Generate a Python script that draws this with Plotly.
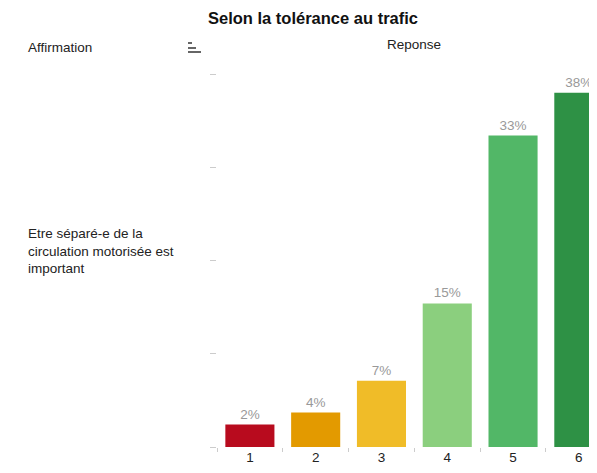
import plotly.graph_objects as go

categories = ["1", "2", "3", "4", "5", "6"]
values = [2.4, 3.7, 7.1, 15.4, 33.4, 38.0]
colors = ["#B80B1E", "#E39A00", "#F0BC28", "#8BCF7E", "#52B767", "#2E9145"]
title = "Selon la tolérance au trafic"
row_label = "Etre séparé-e de la<br>circulation motorisée est<br>important"
y_ticks = [0, 10, 20, 30, 40]

FONT = "Liberation Sans, Arial, sans-serif"

OFF = 8  # page body margin
W, H = 597 - OFF, 473 - 2 * OFF
# plot area in window pixels: left 217, top 74, bottom 447
l = 217 - OFF
t = 74 - OFF
b = H - (447 - OFF)
r = 0
pw, ph = W - l - r, H - t - b


def px(X):
    return (X - OFF - l) / pw


def py(Y):
    return (H - b - (Y - OFF)) / ph


x_max = -0.5 + (W + OFF - 217.5) / 65.7

fig = go.Figure(go.Bar(
    x=categories, y=values,
    marker=dict(color=colors, line=dict(width=0)),
    texttemplate="%{y:.0f}%", textposition="outside",
    textfont=dict(color="#999999", size=13.5, family=FONT),
    cliponaxis=False, hoverinfo="skip",
))

fig.update_layout(
    width=W, height=H,
    margin=dict(l=l, r=r, t=t, b=b),
    paper_bgcolor="white", plot_bgcolor="white",
    showlegend=False, bargap=0.254,
    font=dict(family=FONT, size=13.5, color="#222222"),
    title=dict(text="<b>" + title + "</b>", x=(313 - OFF) / W, xanchor="center",
               y=1 - (18 - OFF) / H, yanchor="middle",
               font=dict(size=16.5, color="#111111", family=FONT)),
    xaxis=dict(range=[-0.5, x_max], showgrid=False, zeroline=False, showline=False,
               ticks="outside", tickson="boundaries", ticklen=4, tickcolor="#cccccc",
               tickwidth=1, tickfont=dict(size=13.5, color="#222222")),
    yaxis=dict(range=[0, 40], tickvals=y_ticks, showticklabels=False, showgrid=False,
               zeroline=False, showline=False, ticks="outside", ticklen=6,
               tickcolor="#cccccc", tickwidth=1),
    annotations=[
        dict(text="Reponse", x=px(414), y=py(45), xref="paper", yref="paper",
             showarrow=False, xanchor="center", yanchor="middle",
             font=dict(size=13.5, color="#222222")),
        dict(text="Affirmation", x=px(26), y=py(48), xref="paper", yref="paper",
             showarrow=False, xanchor="left", yanchor="middle",
             font=dict(size=13.5, color="#222222")),
        dict(text=row_label, x=px(26), y=py(251), xref="paper", yref="paper",
             showarrow=False, xanchor="left", yanchor="middle", align="left",
             font=dict(size=13.5, color="#222222")),
    ],
)

# sort icon (three grey bars)
for y0, x1 in [(43, 192), (48, 196), (52, 201)]:
    fig.add_shape(type="rect", xref="paper", yref="paper",
                  x0=px(188), x1=px(x1), y0=py(y0 + 1), y1=py(y0 - 1),
                  line=dict(width=0), fillcolor="#666666")

fig.write_html("out.html")
